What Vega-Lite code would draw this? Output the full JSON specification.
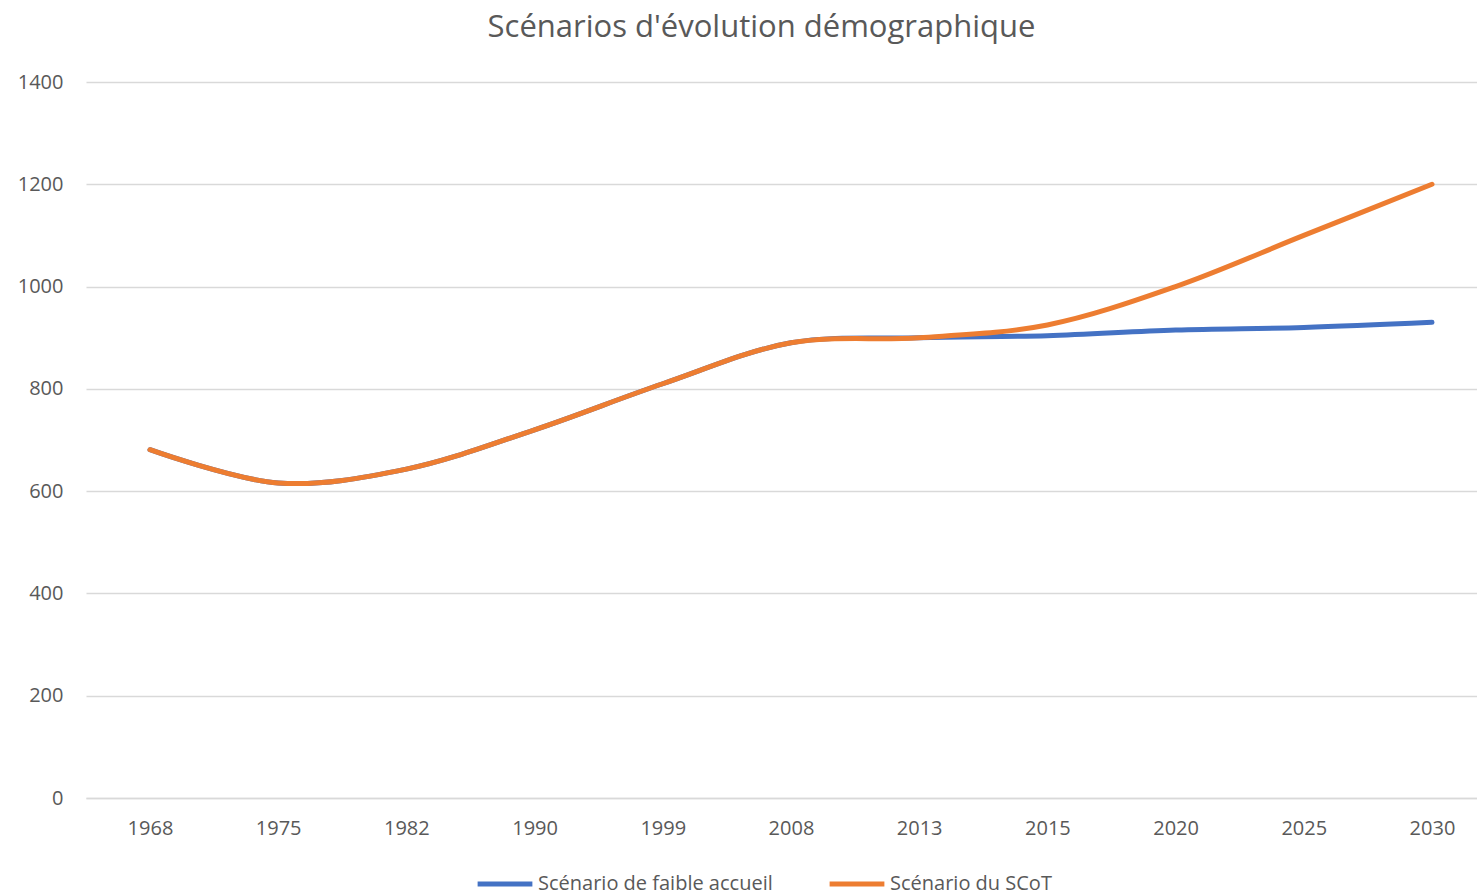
{
  "$schema": "https://vega.github.io/schema/vega-lite/v6.json",
  "width": 1391,
  "height": 716,
  "autosize": {"type": "none"},
  "padding": {"left": 86, "top": 82, "right": 0, "bottom": 96},
  "background": "white",
  "title": {
    "text": "Scénarios d'évolution démographique",
    "font": "Open Sans",
    "fontSize": 31,
    "fontWeight": "normal",
    "color": "#595959",
    "baseline": "alphabetic",
    "offset": 4,
    "dx": -20
  },
  "config": {
    "view": {"stroke": null},
    "font": "Open Sans"
  },
  "data": {
    "values": [
      {"annee": "1968", "scenario": "Scénario de faible accueil", "population": 681},
      {"annee": "1975", "scenario": "Scénario de faible accueil", "population": 616},
      {"annee": "1982", "scenario": "Scénario de faible accueil", "population": 643},
      {"annee": "1990", "scenario": "Scénario de faible accueil", "population": 720},
      {"annee": "1999", "scenario": "Scénario de faible accueil", "population": 810},
      {"annee": "2008", "scenario": "Scénario de faible accueil", "population": 890},
      {"annee": "2013", "scenario": "Scénario de faible accueil", "population": 900},
      {"annee": "2015", "scenario": "Scénario de faible accueil", "population": 904},
      {"annee": "2020", "scenario": "Scénario de faible accueil", "population": 915},
      {"annee": "2025", "scenario": "Scénario de faible accueil", "population": 920},
      {"annee": "2030", "scenario": "Scénario de faible accueil", "population": 930},
      {"annee": "1968", "scenario": "Scénario du SCoT", "population": 681},
      {"annee": "1975", "scenario": "Scénario du SCoT", "population": 616},
      {"annee": "1982", "scenario": "Scénario du SCoT", "population": 643},
      {"annee": "1990", "scenario": "Scénario du SCoT", "population": 720},
      {"annee": "1999", "scenario": "Scénario du SCoT", "population": 810},
      {"annee": "2008", "scenario": "Scénario du SCoT", "population": 890},
      {"annee": "2013", "scenario": "Scénario du SCoT", "population": 900},
      {"annee": "2015", "scenario": "Scénario du SCoT", "population": 925},
      {"annee": "2020", "scenario": "Scénario du SCoT", "population": 1000},
      {"annee": "2025", "scenario": "Scénario du SCoT", "population": 1100},
      {"annee": "2030", "scenario": "Scénario du SCoT", "population": 1200}
    ]
  },
  "mark": {"type": "line", "interpolate": "catmull-rom", "strokeWidth": 5, "strokeCap": "round"},
  "encoding": {
    "x": {
      "field": "annee",
      "type": "ordinal",
      "sort": null,
      "scale": {"type": "point", "padding": 0.425, "align": 0.587},
      "axis": {
        "title": null,
        "labelAngle": 0,
        "labelFont": "Open Sans",
        "labelFontSize": 20,
        "labelColor": "#595959",
        "labelPadding": 20,
        "ticks": false,
        "domain": true,
        "domainColor": "#d9d9d9",
        "domainWidth": 1.3,
        "grid": false
      }
    },
    "y": {
      "field": "population",
      "type": "quantitative",
      "scale": {"domain": [0, 1400], "nice": false},
      "axis": {
        "title": null,
        "values": [0, 200, 400, 600, 800, 1000, 1200, 1400],
        "format": "d",
        "labelFont": "Open Sans",
        "labelFontSize": 20,
        "labelColor": "#595959",
        "labelPadding": 23,
        "ticks": false,
        "domain": false,
        "grid": true,
        "gridColor": "#d9d9d9",
        "gridWidth": 1.3
      }
    },
    "color": {
      "field": "scenario",
      "type": "nominal",
      "scale": {"domain": ["Scénario de faible accueil", "Scénario du SCoT"], "range": ["#4472C4", "#ED7D31"]},
      "legend": {
        "title": null,
        "orient": "none",
        "direction": "horizontal",
        "legendX": 389,
        "legendY": 772,
        "symbolType": "stroke",
        "symbolSize": 3000,
        "symbolStrokeWidth": 5,
        "labelFont": "Open Sans",
        "labelFontSize": 20,
        "labelColor": "#595959",
        "labelOffset": 3,
        "columnPadding": 46,
        "labelLimit": 400
      }
    }
  }
}
